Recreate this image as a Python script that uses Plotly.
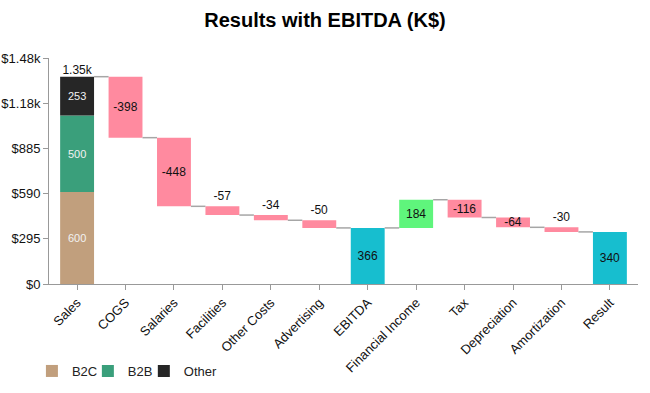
import plotly.graph_objects as go

categories = ["Sales", "COGS", "Salaries", "Facilities", "Other Costs", "Advertising",
              "EBITDA", "Financial Income", "Tax", "Depreciation", "Amortization", "Result"]
sales_parts = ["B2C", "B2B", "Other"]
sales_values = [600, 500, 253]
changes = [None, -398, -448, -57, -34, -50, None, 184, -116, -64, -30, None]
kinds = ["sales", "rel", "rel", "rel", "rel", "rel", "total", "rel", "rel", "rel", "rel", "total"]
y_tickvals = [0, 295, 590, 885, 1180, 1475]
y_ticktext = ["$0", "$295", "$590", "$885", "$1.18k", "$1.48k"]

part_colors = {"B2C": "#c19f7d", "B2B": "#3a9f7b", "Other": "#262626"}
neg_color = "#ff8a9f"
pos_color = "#5ff57c"
tot_color = "#17becf"
FONT = "Arial, Liberation Sans, sans-serif"
W = 0.7

fig = go.Figure()

legend_ids = ["legend", "legend2", "legend3"]
legend_x = [-0.029, 0.066, 0.161]

# stacked Sales
base = 0
for name, v, lid in zip(sales_parts, sales_values, legend_ids):
    fig.add_trace(go.Bar(
        x=[0], y=[v], base=[base], width=W, name=name, legend=lid,
        marker=dict(color=part_colors[name], line=dict(width=0)),
        text=[str(v)], textposition="inside", insidetextanchor="middle",
        constraintext="none",
        textfont=dict(color="#f2f2f2", size=11, family=FONT),
        hoverinfo="skip"))
    base += v
sales_total = base
fig.add_trace(go.Scatter(x=[0], y=[sales_total], mode="text", text=["1.35k"],
                         textposition="top center", showlegend=False,
                         textfont=dict(size=12, color="#111", family=FONT)))

levels = [sales_total]
level = sales_total
xs, ys, bases, cols, texts, tpos = [], [], [], [], [], []
for i in range(1, len(categories)):
    k = kinds[i]
    if k == "total":
        xs.append(i); ys.append(level); bases.append(0); cols.append(tot_color)
        texts.append(str(level)); tpos.append("inside")
    else:
        d = changes[i]
        new = level + d
        xs.append(i); ys.append(abs(d)); bases.append(min(level, new))
        cols.append(neg_color if d < 0 else pos_color)
        texts.append(str(d))
        tpos.append("inside" if abs(d) >= 60 else "outside")
        level = new
    levels.append(level)

fig.add_trace(go.Bar(
    x=xs, y=ys, base=bases, width=W, showlegend=False,
    marker=dict(color=cols, line=dict(width=0)),
    text=texts, textposition=tpos, insidetextanchor="middle",
    constraintext="none",
    textfont=dict(color="#111", size=12, family=FONT), cliponaxis=False,
    hoverinfo="skip"))

# connectors
cx, cy = [], []
for i in range(len(categories) - 1):
    cx += [i + W / 2, i + 1 - W / 2, None]
    cy += [levels[i], levels[i], None]
fig.add_trace(go.Scatter(x=cx, y=cy, mode="lines", showlegend=False,
                         line=dict(color="#a6a6a6", width=1.5), hoverinfo="skip"))

leg_common = dict(orientation="h", xanchor="left", yref="container",
                  y=1 - 371 / 393, yanchor="middle",
                  font=dict(size=13, color="#222", family=FONT),
                  bgcolor="rgba(0,0,0,0)", itemwidth=30)

fig.update_layout(
    width=650, height=393, barmode="overlay",
    paper_bgcolor="white", plot_bgcolor="white",
    margin=dict(l=49, r=12, t=58, b=109, autoexpand=False),
    title=dict(text="<b>Results with EBITDA (K$)</b>", x=0.5, xanchor="center",
               y=0.949, yanchor="middle",
               font=dict(size=20, color="#000", family=FONT)),
    font=dict(family=FONT, color="#222"),
    legend=dict(x=legend_x[0], **leg_common),
    legend2=dict(x=legend_x[1], **leg_common),
    legend3=dict(x=legend_x[2], **leg_common),
    showlegend=True,
)
fig.update_xaxes(range=[-0.58, len(categories) - 1 + 0.58],
                 tickvals=list(range(len(categories))), ticktext=categories,
                 tickangle=-45, showgrid=False, zeroline=False, automargin=False,
                 showline=True, linecolor="#999", linewidth=1,
                 ticks="outside", ticklen=5, tickcolor="#999",
                 tickfont=dict(size=13, color="#111"))
fig.update_yaxes(range=[0, 1475], tickvals=y_tickvals, ticktext=y_ticktext,
                 showgrid=False, zeroline=False, automargin=False,
                 showline=True, linecolor="#999", linewidth=1,
                 ticks="outside", ticklen=5, tickcolor="#999",
                 tickfont=dict(size=13, color="#111"))

fig.write_html("out.html", config={"displayModeBar": False},
               post_script="document.body.style.margin='0';")
